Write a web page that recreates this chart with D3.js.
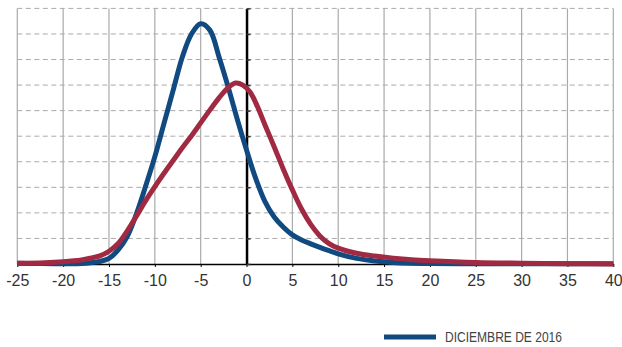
<!DOCTYPE html>
<html><head><meta charset="utf-8">
<script src="https://cdn.jsdelivr.net/npm/d3@7"></script>
<style>html,body{margin:0;padding:0;background:#fff;}svg{display:block;}</style>
</head><body>
<svg id="chart" width="622" height="347"></svg>
<script>
// Data
const xTicks = [-25,-20,-15,-10,-5,0,5,10,15,20,25,30,35,40];
const yTicks = [0,1,2,3,4,5,6,7,8,9,10];
const blueX = [-25,-23,-21,-19,-18,-17,-16,-15,-14,-13,-12,-11,-10,-9,-8,-7,-6,-5,-4,-3,-2,-1,0,1,2,3,4,5,6,7,8,9,10,12,14,16,18,20,25,30,40];
const blueY = [0.03,0.02,0.01,0.01,0.02,0.05,0.1,0.22,0.55,1.08,1.97,3.05,4.2,5.5,6.8,8.1,9.0,9.4,9.15,8.1,6.92,5.65,4.46,3.35,2.45,1.85,1.45,1.14,0.94,0.79,0.65,0.52,0.4,0.22,0.12,0.06,0.03,0.02,0.01,0.01,0.01];
const redX = [-25,-22,-20,-18,-17,-16,-15,-14,-13,-12,-11,-10,-9,-8,-7,-6,-5,-4,-3,-2,-1.2,-0.4,0.4,1.2,2,3,4,5,6,7,8,9,10,12,14,16,18,20,25,30,35,40];
const redY = [0.03,0.05,0.09,0.16,0.23,0.32,0.5,0.8,1.3,1.88,2.48,3.03,3.55,4.05,4.55,5.02,5.52,6.02,6.5,6.9,7.08,7.0,6.72,6.15,5.45,4.6,3.72,2.9,2.15,1.55,1.1,0.8,0.62,0.42,0.31,0.23,0.17,0.13,0.06,0.03,0.01,0.0];
const legendLabel = "DICIEMBRE DE 2016";

const BLUE = "#104a80", RED = "#a12a43";
const svg = d3.select("#chart");
const x = d3.scaleLinear().domain([-25,40]).range([17.3,613.3]);
const y = d3.scaleLinear().domain([0,10]).range([264,8.4]);

// horizontal dashed grid
svg.append("g").selectAll("line").data(yTicks.filter(d=>d>0)).join("line")
  .attr("x1",x(-25)).attr("x2",x(40)).attr("y1",d=>y(d)).attr("y2",d=>y(d))
  .attr("stroke","#aaa").attr("stroke-width",1).attr("stroke-dasharray","5,3.5");
// vertical grid
svg.append("g").selectAll("line").data(xTicks.filter(d=>d!==0)).join("line")
  .attr("x1",d=>x(d)).attr("x2",d=>x(d)).attr("y1",y(10)).attr("y2",y(0))
  .attr("stroke","#aaa").attr("stroke-width",1.2);

// x axis
const xAxis = d3.axisBottom(x).tickValues(xTicks).tickSize(3).tickSizeOuter(0).tickFormat(d3.format("d"));
const gx = svg.append("g").attr("transform",`translate(0,${y(0)})`).call(xAxis);
gx.select(".domain").attr("stroke","#000").attr("stroke-width",1.5);
gx.selectAll(".tick line").attr("stroke","#000").attr("stroke-width",1);
gx.selectAll(".tick text").attr("font-family","'Liberation Sans', Arial, sans-serif")
  .attr("font-size",16).attr("fill","#333").attr("y",11).attr("dy","0.71em")
  .text(d=>d<0 ? "-"+Math.abs(d) : d);

// y axis at x=0
const yAxis = d3.axisRight(y).tickValues(yTicks).tickSize(4).tickSizeOuter(0).tickFormat("");
const gy = svg.append("g").attr("transform",`translate(${x(0)},0)`).call(yAxis);
gy.select(".domain").attr("stroke","#000").attr("stroke-width",2.5);
gy.selectAll(".tick line").attr("stroke","#333").attr("stroke-width",1.5);

// curves
const line = d3.line().x(d=>x(d[0])).y(d=>y(d[1])).curve(d3.curveCatmullRom.alpha(0.5));
svg.append("path").datum(blueX.map((v,i)=>[v,blueY[i]])).attr("d",line)
  .attr("fill","none").attr("stroke",BLUE).attr("stroke-width",5);
svg.append("path").datum(redX.map((v,i)=>[v,redY[i]])).attr("d",line)
  .attr("fill","none").attr("stroke",RED).attr("stroke-width",5);

// legend
const lg = svg.append("g");
lg.append("line").attr("x1",384).attr("x2",436).attr("y1",337).attr("y2",337)
  .attr("stroke",BLUE).attr("stroke-width",5);
lg.append("text").attr("x",445).attr("y",341.8).text(legendLabel)
  .attr("font-family","'Liberation Sans', Arial, sans-serif").attr("font-size",14.5)
  .attr("fill","#444").attr("textLength",117).attr("lengthAdjust","spacingAndGlyphs");
</script>
</body></html>
